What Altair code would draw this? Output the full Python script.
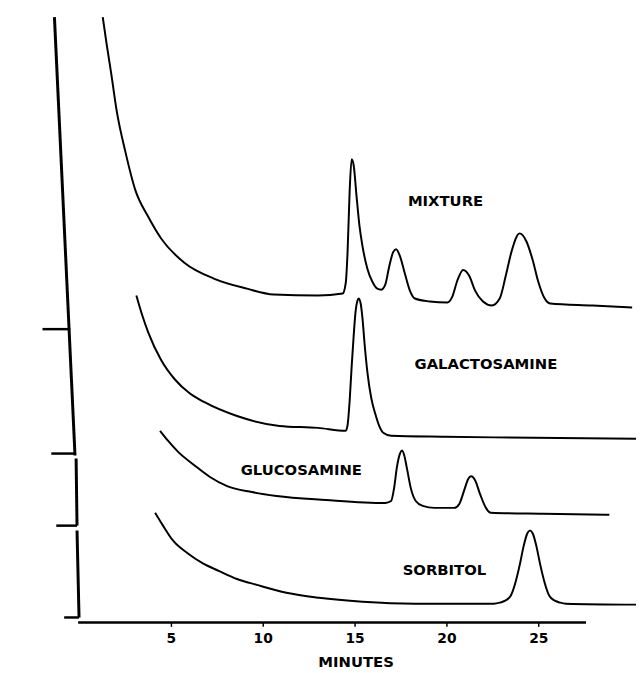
import altair as alt
import pandas as pd

# ---- trace data (time in minutes, detector response in arbitrary units) ----
mix_t = [1.29, 1.50, 1.75, 2.05, 2.53, 3.06, 3.76, 4.46, 5.75, 7.37, 9.14, 10.59, 13.01, 14.35,
         14.52, 14.62, 14.73, 14.84, 14.95, 15.11, 15.27, 15.43, 15.70, 15.97, 16.24, 16.45,
         16.67, 16.88, 17.10, 17.26, 17.47, 17.74, 18.01, 18.28, 19.09, 20.05, 20.32, 20.59,
         20.91, 21.24, 21.56, 21.99, 22.47, 22.90, 23.23, 23.55, 23.98, 24.35, 24.68, 25.00,
         25.32, 25.65, 27.96, 30.11]
mix_y = [61.3, 58.6, 55.6, 51.8, 47.6, 43.8, 41.1, 38.9, 36.4, 34.8, 33.8, 33.2, 33.1, 33.3,
         34.4, 37.6, 43.6, 46.9, 46.3, 43.1, 40.1, 38.1, 35.8, 34.5, 33.8, 33.7,
         34.2, 36.0, 37.5, 37.8, 37.1, 35.3, 33.6, 32.8, 32.5, 32.4, 33.0, 34.6,
         35.7, 35.1, 33.6, 32.5, 32.1, 32.8, 35.1, 37.6, 39.4, 38.6, 36.8, 34.5,
         32.9, 32.3, 32.1, 31.9]

gal_t = [3.12, 3.44, 3.76, 4.46, 5.22, 6.02, 6.83, 8.60, 10.91, 13.01, 14.52, 14.62, 14.73,
         14.84, 14.95, 15.05, 15.16, 15.22, 15.32, 15.43, 15.54, 15.70, 15.91, 16.13, 16.34,
         16.56, 16.99, 19.89, 24.73, 30.32]
gal_y = [33.1, 31.1, 29.4, 26.6, 24.6, 23.2, 22.3, 20.9, 19.9, 19.7, 19.4, 20.0, 22.4,
         25.9, 29.0, 31.4, 32.6, 32.8, 32.4, 30.8, 28.3, 25.3, 22.7, 21.1, 19.9,
         19.2, 18.9, 18.8, 18.7, 18.6]

glu_t = [4.41, 4.84, 5.38, 6.29, 7.15, 8.06, 9.41, 10.75, 13.44, 16.67, 16.99, 17.15, 17.31,
         17.47, 17.58, 17.69, 17.85, 18.06, 18.33, 18.71, 19.35, 20.43, 20.70, 20.97, 21.18,
         21.34, 21.56, 21.83, 22.15, 22.42, 25.27, 28.87]
glu_y = [19.4, 18.4, 17.3, 15.9, 14.7, 13.8, 13.2, 12.8, 12.4, 12.1, 12.3, 13.6, 15.8,
         17.1, 17.4, 17.0, 15.6, 13.6, 12.3, 11.8, 11.6, 11.6, 12.0, 13.4, 14.5,
         14.8, 14.4, 13.0, 11.6, 11.1, 11.0, 10.9]

sor_t = [4.14, 4.57, 5.11, 5.91, 6.72, 7.63, 8.60, 9.68, 11.29, 13.06, 15.43, 18.28, 22.58,
         22.90, 23.20, 23.50, 23.75, 24.00, 24.20, 24.40, 24.55, 24.70, 24.90, 25.10, 25.35,
         25.60, 25.90, 26.20, 26.50, 30.32]
sor_y = [11.1, 9.8, 8.3, 7.0, 6.0, 5.2, 4.4, 3.8, 3.0, 2.5, 2.1, 1.9, 1.9,
         2.0, 2.2, 2.7, 4.0, 5.9, 7.7, 9.0, 9.3, 9.0, 7.7, 5.9, 4.0,
         2.7, 2.2, 2.0, 1.9, 1.8]

# ---- trace labels ----
label_text = ["MIXTURE", "GALACTOSAMINE", "GLUCOSAMINE", "SORBITOL"]
label_t = [19.95, 22.15, 12.10, 19.89]
label_y = [42.7, 26.2, 15.4, 5.3]

# ---- hand-drawn vertical (response) axis: segments and baseline ticks ----
yaxis_t1 = [-1.34, -0.16, -0.11]
yaxis_y1 = [61.3, 16.6, 9.3]
yaxis_t2 = [-0.22, -0.11, 0.0]
yaxis_y2 = [16.9, 9.8, 0.5]
ytick_level = [29.7, 17.1, 9.8, 0.5]
ytick_t1 = [-1.99, -1.51, -1.24, -0.81]
ytick_t2 = [-0.48, -0.22, -0.11, 0.0]

# ---- time axis ----
xaxis_start = -0.05
xaxis_end = 27.6
xtick_values = [5, 10, 15, 20, 25]

FONT = "DejaVu Sans"

rows = []
for name, ts, ys in [("mixture", mix_t, mix_y), ("galactosamine", gal_t, gal_y),
                     ("glucosamine", glu_t, glu_y), ("sorbitol", sor_t, sor_y)]:
    for i, (t, y) in enumerate(zip(ts, ys)):
        rows.append({"trace": name, "t": t, "y": y, "i": i})
traces = pd.DataFrame(rows)

xscale = alt.Scale(domain=[-3.76, 30.32], nice=False, zero=False)
yscale = alt.Scale(domain=[0, 61.6], nice=False, zero=False)

xaxis = alt.Axis(values=xtick_values, domain=False, grid=False, ticks=True, tickSize=4,
                 tickWidth=1.5, tickColor="black", labelFont=FONT, labelFontSize=14,
                 labelFontWeight="bold", labelColor="black", labelPadding=5,
                 title="MINUTES", titleFont=FONT, titleFontSize=15, titleFontWeight="bold",
                 titleColor="black", titleX=350, titlePadding=10)

lines = alt.Chart(traces).mark_line(color="black", strokeWidth=2, interpolate="monotone").encode(
    x=alt.X("t:Q", scale=xscale, axis=xaxis),
    y=alt.Y("y:Q", scale=yscale, axis=None),
    detail="trace:N",
    order="i:Q",
)

labels = alt.Chart(pd.DataFrame({"text": label_text, "t": label_t, "y": label_y})).mark_text(
    font=FONT, fontSize=15, fontWeight="bold", color="black", align="center", baseline="middle"
).encode(x=alt.X("t:Q", scale=xscale), y=alt.Y("y:Q", scale=yscale), text="text:N")

yaxis_df = pd.DataFrame({"t1": yaxis_t1, "y1": yaxis_y1, "t2": yaxis_t2, "y2": yaxis_y2})
yaxis_rules = alt.Chart(yaxis_df).mark_rule(color="black", strokeWidth=3).encode(
    x=alt.X("t1:Q", scale=xscale), x2="t2:Q",
    y=alt.Y("y1:Q", scale=yscale), y2="y2:Q",
)

ytick_df = pd.DataFrame({"lev": ytick_level, "t1": ytick_t1, "t2": ytick_t2})
ytick_rules = alt.Chart(ytick_df).mark_rule(color="black", strokeWidth=2.5).encode(
    x=alt.X("t1:Q", scale=xscale), x2="t2:Q", y=alt.Y("lev:Q", scale=yscale),
)

xaxis_rule = alt.Chart(pd.DataFrame({"a": [xaxis_start], "b": [xaxis_end], "z": [0.0]})).mark_rule(
    color="black", strokeWidth=2.5
).encode(x=alt.X("a:Q", scale=xscale), x2="b:Q", y=alt.Y("z:Q", scale=yscale))

chart = alt.layer(lines, labels, yaxis_rules, ytick_rules, xaxis_rule).properties(
    width=634, height=616, autosize="none",
    padding={"left": 2, "top": 2, "right": 0, "bottom": 47},
    background="white",
).configure_view(stroke=None)

chart.save("out.html", embed_options={"renderer": "svg", "actions": False})
